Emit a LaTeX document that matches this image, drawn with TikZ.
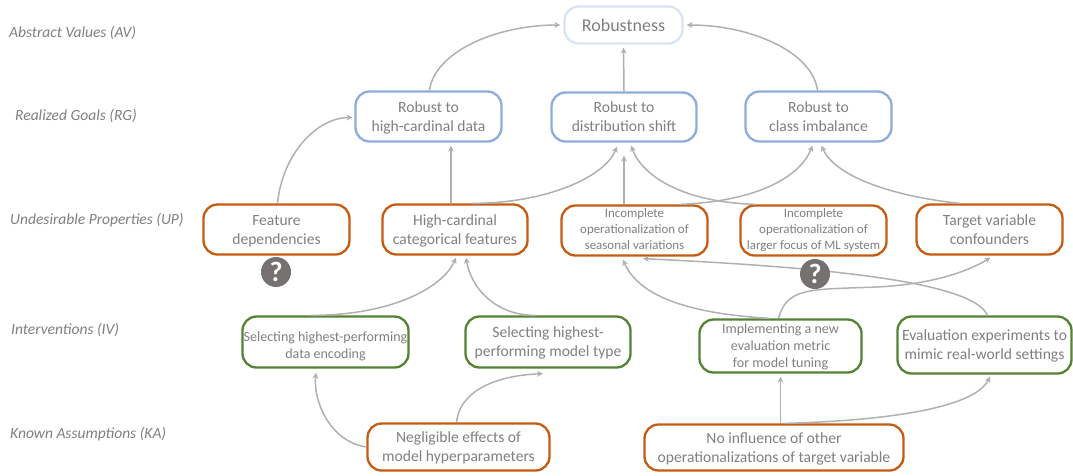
\documentclass[tikz,border=0pt]{standalone}
\usepackage{fontspec}
\setmainfont{Carlito}
\usetikzlibrary{arrows.meta}
\definecolor{txt}{HTML}{7F7F7F}
\definecolor{lnk}{HTML}{B0B0B0}
\definecolor{orangeb}{HTML}{C55A11}
\definecolor{blueb}{HTML}{8FAADC}
\definecolor{greenb}{HTML}{548235}
\definecolor{paleb}{HTML}{DAE3F3}
\definecolor{qfill}{HTML}{767171}
\newcommand{\txtdrop}{0pt}
\tikzset{
  drop/.code={\renewcommand{\txtdrop}{#1}},
  box/.style={draw,line width=2.3pt,rounded corners=14pt,text=txt,inner sep=0pt,font=\fontsize{15.6}{19}\selectfont,drop=1pt},
  absbox/.style={box,draw=paleb,font=\fontsize{18}{20}\selectfont,drop=2.5pt},
  goalbox/.style={box,draw=blueb},
  propbox/.style={box,draw=orangeb},
  intbox/.style={box,draw=greenb},
  tinytext/.style={font=\fontsize{12.9}{16}\selectfont,drop=0pt},
  midtext/.style={font=\fontsize{14}{17}\selectfont,drop=1pt},
  lvl/.style={anchor=west,text=txt,inner sep=0pt,font=\fontsize{15.5}{18}\selectfont\itshape},
  link/.style={draw=lnk,line width=1.5pt,-{Stealth[length=6pt,width=6pt]}},
  qmark/.style={circle,fill=qfill,text=white,minimum size=30pt,inner sep=0pt,font=\fontsize{28}{28}\selectfont\bfseries},
}
\newcommand{\bx}[7]{\node[#1,minimum width=#4pt-#3pt-1pt,minimum height=#6pt-#5pt-1pt] (#2) at ({(#3+#4)/2},{(#5+#6)/2}) {\raisebox{\dimexpr -.25em-\txtdrop\relax}[0pt][0pt]{\begin{tabular}{@{}c@{}}#7\end{tabular}}}}
\begin{document}
\begin{tikzpicture}[x=1pt,y=-1pt]
\useasboundingbox (0,0) rectangle (1073,475);
\node[lvl] (lav) at (9,33) {Abstract Values (AV)};
\node[lvl] (lrg) at (15,116) {Realized Goals (RG)};
\node[lvl] (lup) at (10,220) {Undesirable Properties (UP)};
\node[lvl] (liv) at (11,330) {Interventions (IV)};
\node[lvl] (lka) at (10,434) {Known Assumptions (KA)};

\bx{absbox}{rob}{564}{683}{6}{44}{Robustness};
\bx{goalbox}{rga}{355}{502}{91}{142}{Robust to\\high-cardinal data};
\bx{goalbox}{rgb}{551}{697}{92}{142}{Robust to\\distribution shift};
\bx{goalbox}{rgc}{745}{892}{91}{142}{Robust to\\class imbalance};

\bx{propbox}{upa}{203}{350}{204}{255}{Feature\\dependencies};
\bx{propbox}{upb}{382}{528}{204}{255}{High-cardinal\\categorical features};
\bx{propbox,tinytext}{upc}{561}{708}{205}{256}{Incomplete\\operationalization of\\seasonal variations};
\bx{propbox,tinytext}{upd}{740}{887}{205}{256}{Incomplete\\operationalization of\\larger focus of ML system};
\bx{propbox}{upe}{916}{1063}{204}{255}{Target variable\\confounders};

\bx{intbox,midtext,drop=5pt}{iva}{242}{409}{316}{368}{Selecting highest-performing\\data encoding};
\bx{intbox}{ivb}{465}{631}{316}{368}{Selecting highest-\\performing model type};
\bx{intbox,midtext}{ivc}{699}{862}{319}{373}{Implementing a new\\evaluation metric\\for model tuning};
\bx{intbox}{ivd}{897}{1072}{316}{374}{Evaluation experiments to\\mimic real-world settings};

\bx{propbox}{kaa}{367}{550}{423}{471}{Negligible effects of\\model hyperparameters};
\bx{propbox}{kab}{644}{904}{424}{471}{No influence of other\\operationalizations of target variable};

\node[qmark] (qa) at (276,272) {?};

% RG to AV
\draw[link] ([xshift=1pt]rga.north) .. controls +(5,-38) and +(-65,0) .. ([xshift=-3pt]rob.west);
\draw[link] (rgb.north) -- ([yshift=-3pt]rob.south);
\draw[link] ([xshift=-1pt]rgc.north) .. controls +(-5,-38) and +(65,0) .. ([xshift=3pt]rob.east);
% UP to RG
\draw[link] ([xshift=1pt]upa.north) .. controls +(5,-50) and +(-35,0) .. ([xshift=-2pt,yshift=-1pt]rga.west);
\draw[link] ([xshift=-4pt]upb.north) -- ([xshift=22.5pt,yshift=-3pt]rga.south);
\draw[link] ([xshift=17pt]upb.north) .. controls +(75,0) and +(-12,30) .. ([xshift=-7pt,yshift=-4pt]rgb.south);
\draw[link] ([xshift=-10.5pt]upc.north) -- ([yshift=-13pt]rgb.south);
\draw[link] ([xshift=45pt]upc.north) .. controls +(80,-3) and +(-12,30) .. ([xshift=-6pt,yshift=-3pt]rgc.south);
\draw[link] ([xshift=-58pt]upd.north) .. controls +(-70,-2) and +(12,32) .. ([xshift=7pt,yshift=-3pt]rgb.south);
\draw[link] ([xshift=-30pt]upe.north) .. controls +(-75,-8) and +(12,28) .. ([xshift=3pt,yshift=-3pt]rgc.south);
% IV to UP
\draw[link] ([xshift=-15pt]iva.north) .. controls +(85,0) and +(-12,28) .. ([xshift=1pt,yshift=-2pt]upb.south);
\draw[link] ([xshift=-13pt]ivb.north) .. controls +(-40,0) and +(5,30) .. ([xshift=11pt,yshift=-2pt]upb.south);
\draw[link] ([xshift=-11pt]ivc.north) .. controls +(-85,-5) and +(15,35) .. ([xshift=-11.5pt,yshift=-3pt]upc.south);
\draw[link] ([xshift=-2pt]ivc.north) .. controls +(8,-30) and +(-60,2) .. ++(90,-31) .. controls +(60,-2) and +(-25,15) .. ([xshift=1pt,yshift=-2pt]upe.south);
\draw[link] ([xshift=3pt]ivd.north) .. controls +(-15,-35) and +(170,8) .. ([xshift=8.5pt,yshift=-2pt]upc.south);
\node[qmark] (qb) at (815,274) {?};
% KA to IV
\draw[link] (kaa.west) .. controls +(-35,-5) and +(-3,30) .. ([xshift=-9.5pt,yshift=-4pt]iva.south);
\draw[link] ([xshift=-2pt]kaa.north) .. controls +(3,-30) and +(-50,2) .. ([xshift=-5pt,yshift=-5pt]ivb.south);
\draw[link] ([xshift=6.5pt]kab.north) -- ([yshift=-3pt]ivc.south);
\draw[link] ([xshift=11pt]kab.north) .. controls +(110,-3) and +(-15,30) .. ([xshift=5.5pt,yshift=-2pt]ivd.south);
\end{tikzpicture}
\end{document}
